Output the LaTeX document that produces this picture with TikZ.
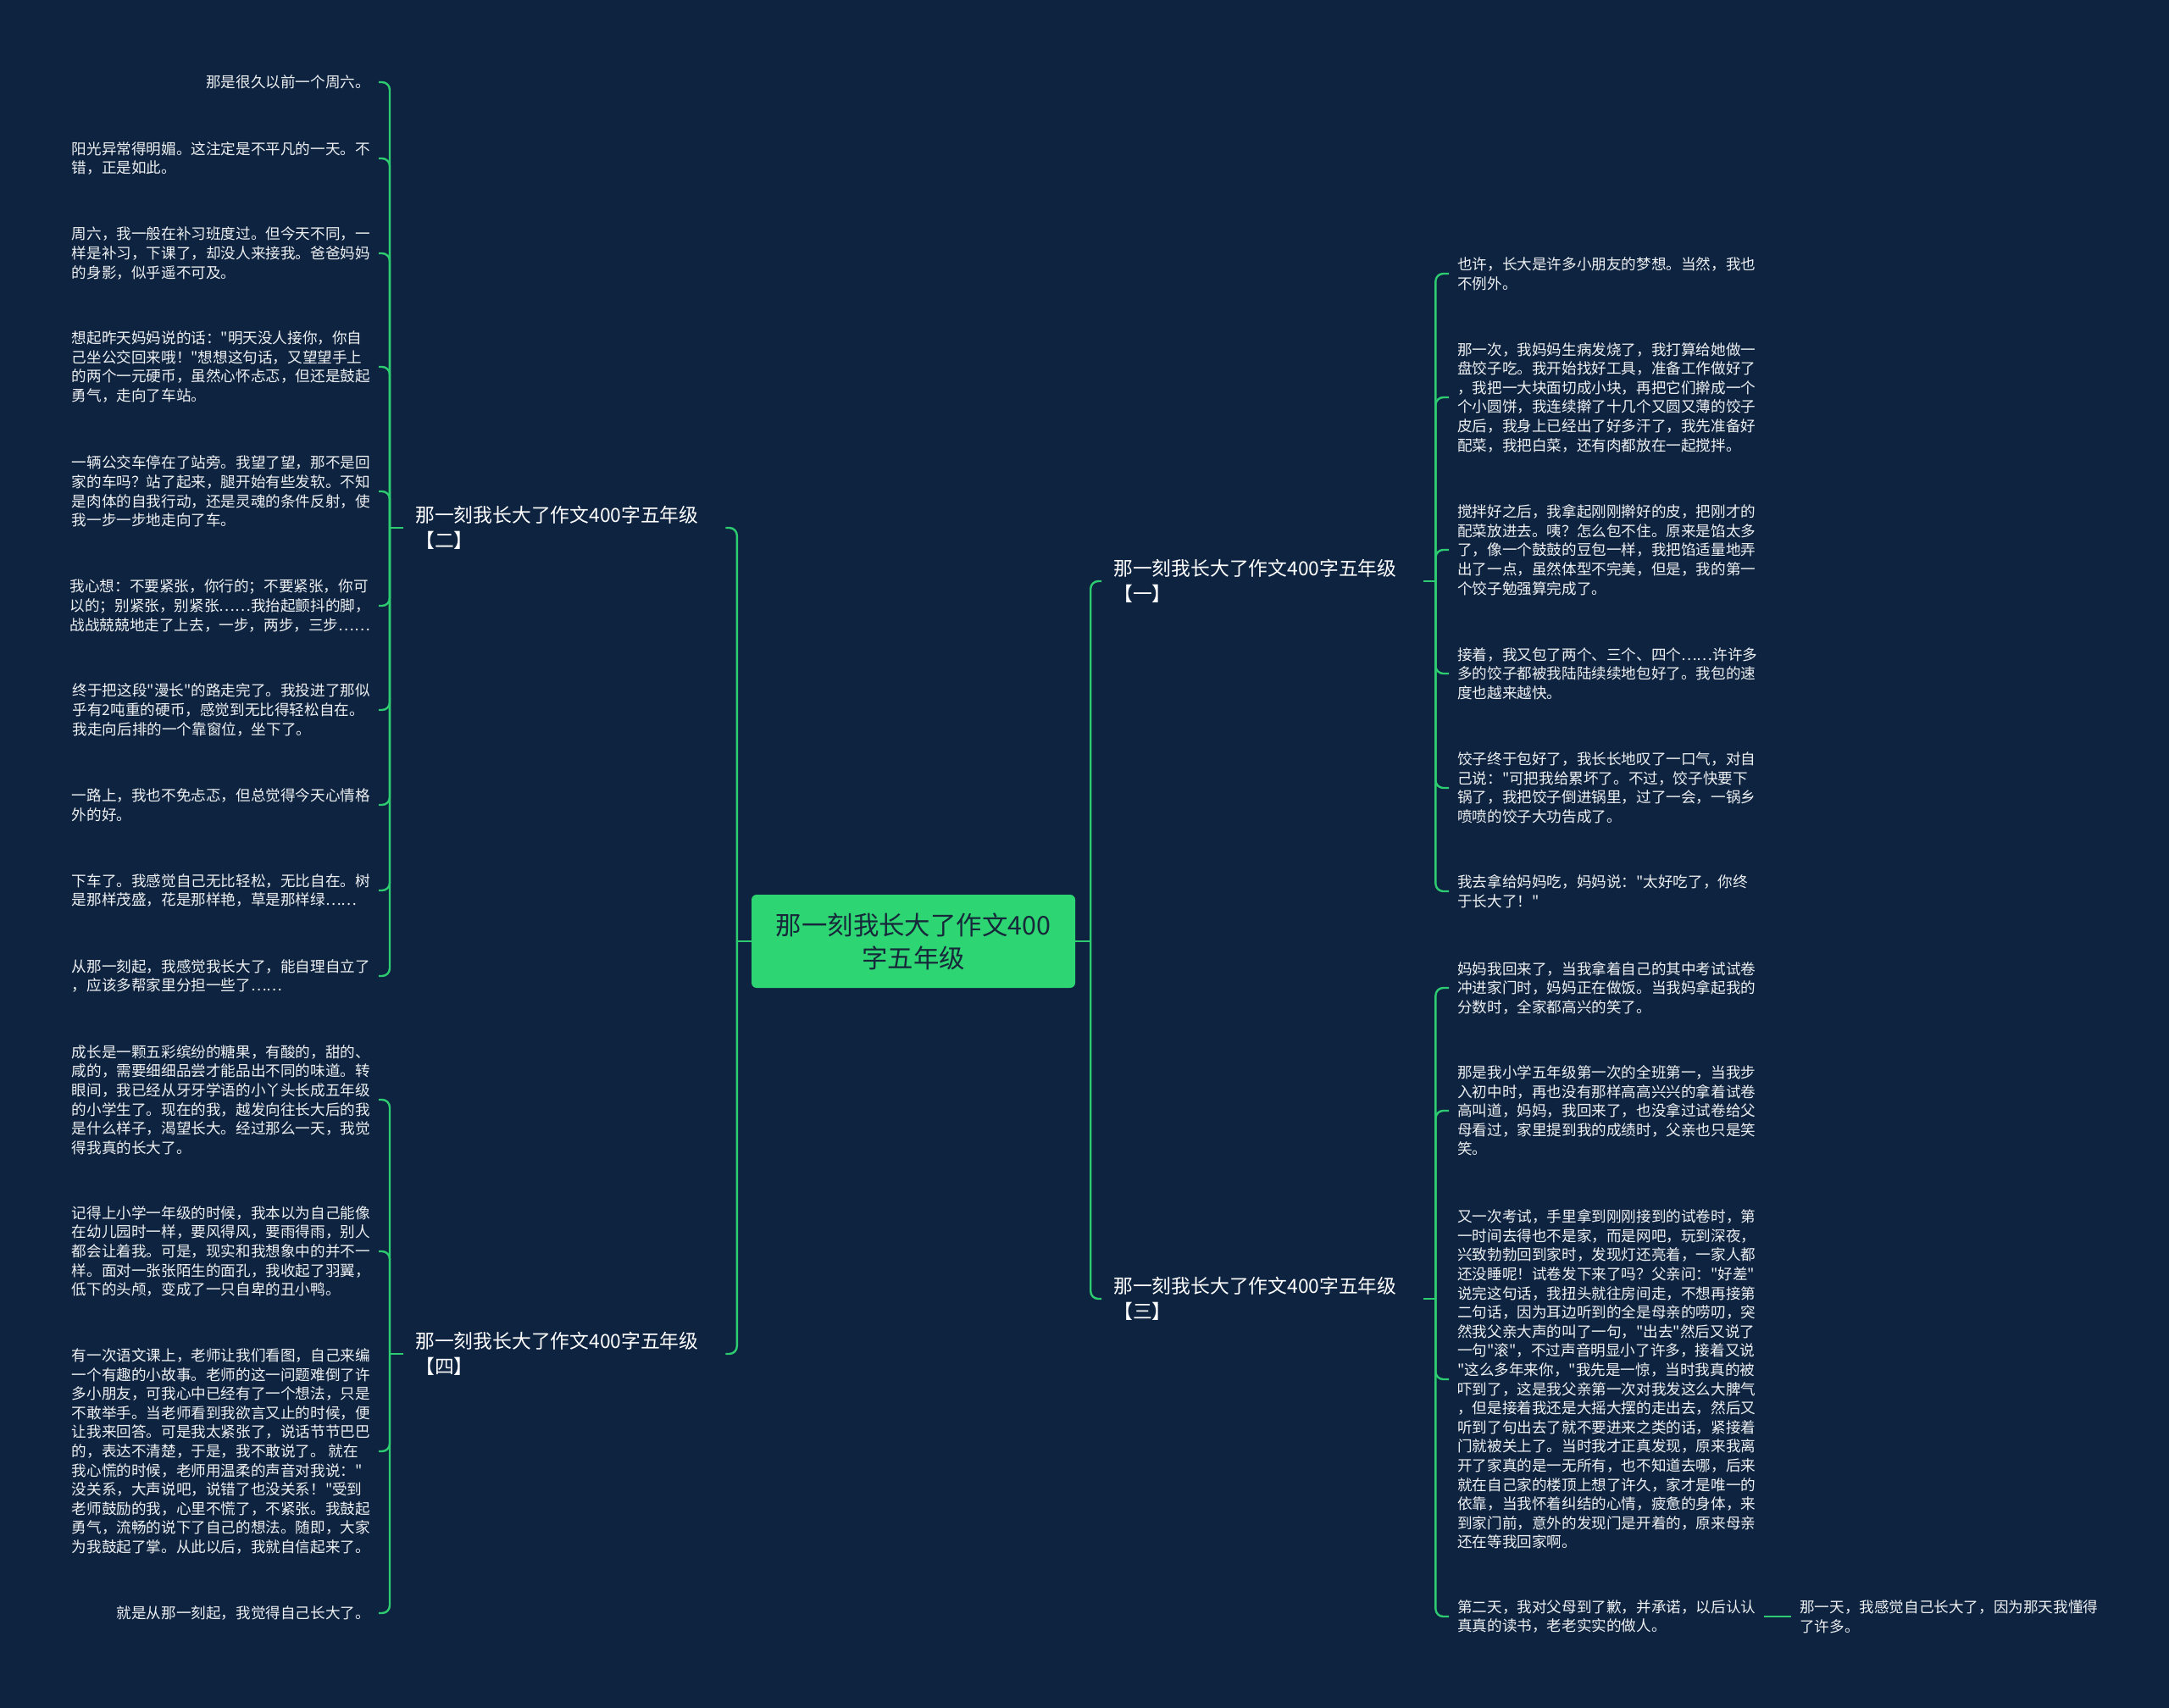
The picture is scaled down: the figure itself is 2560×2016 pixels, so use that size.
\documentclass[tikz,border=0pt]{standalone}
\usepackage{fontspec}
\newfontfamily\cjk{Noto Sans CJK SC}
\definecolor{bg}{RGB}{13,35,64}
\definecolor{ln}{RGB}{46,204,113}
\definecolor{ctr}{RGB}{46,213,115}
\definecolor{ctrtext}{RGB}{22,40,58}
\definecolor{lt}{RGB}{238,240,242}
\tikzset{
  leaf/.style={font=\cjk\fontsize{17.6}{22.6}\selectfont, text=lt, align=left, inner xsep=10pt, inner ysep=4pt},
  leafL/.style={leaf, anchor=east},
  leafR/.style={leaf, anchor=west},
  branch/.style={font=\cjk\fontsize{22.8}{30}\selectfont, text=white, align=left, text width=352pt, inner xsep=14pt, inner ysep=4pt, anchor=west},
  root/.style={fill=ctr, rounded corners=6pt, minimum width=382pt, minimum height=110pt, font=\cjk\fontsize{30.4}{39}\selectfont, text=ctrtext, align=center},
  conn/.style={draw=ln, line width=2.4pt, rounded corners=9pt},
}
\begin{document}
\begin{tikzpicture}[x=1pt,y=-1pt]
\fill[bg] (0,0) rectangle (2560,2016);
\useasboundingbox (0,0) rectangle (2560,2016);

% root
\node[root] (c) at (1078,1111) {那一刻我长大了作文400\\字五年级};

% branches
\node[branch] (b2) at (476,623) {那一刻我长大了作文400字五年级\\【二】};
\node[branch] (b4) at (476,1598) {那一刻我长大了作文400字五年级\\【四】};
\node[branch] (b1) at (1300,686) {那一刻我长大了作文400字五年级\\【一】};
\node[branch] (b3) at (1300,1533) {那一刻我长大了作文400字五年级\\【三】};

% left leaves of branch 2
\node[leafL] (L1) at (447,97) {那是很久以前一个周六。};
\node[leafL] (L2) at (447,187) {阳光异常得明媚。这注定是不平凡的一天。不\\错，正是如此。};
\node[leafL] (L3) at (447,299) {周六，我一般在补习班度过。但今天不同，一\\样是补习，下课了，却没人来接我。爸爸妈妈\\的身影，似乎遥不可及。};
\node[leafL] (L4) at (447,433) {想起昨天妈妈说的话："明天没人接你，你自\\己坐公交回来哦！"想想这句话，又望望手上\\的两个一元硬币，虽然心怀忐忑，但还是鼓起\\勇气，走向了车站。};
\node[leafL] (L5) at (447,580) {一辆公交车停在了站旁。我望了望，那不是回\\家的车吗？站了起来，腿开始有些发软。不知\\是肉体的自我行动，还是灵魂的条件反射，使\\我一步一步地走向了车。};
\node[leafL] (L6) at (447,715) {我心想：不要紧张，你行的；不要紧张，你可\\以的；别紧张，别紧张……我抬起颤抖的脚，\\战战兢兢地走了上去，一步，两步，三步……};
\node[leafL] (L7) at (447,838) {终于把这段"漫长"的路走完了。我投进了那似\\乎有2吨重的硬币，感觉到无比得轻松自在。\\我走向后排的一个靠窗位，坐下了。};
\node[leafL] (L8) at (447,950) {一路上，我也不免忐忑，但总觉得今天心情格\\外的好。};
\node[leafL] (L9) at (447,1051) {下车了。我感觉自己无比轻松，无比自在。树\\是那样茂盛，花是那样艳，草是那样绿……};
\node[leafL] (L10) at (447,1152) {从那一刻起，我感觉我长大了，能自理自立了\\，应该多帮家里分担一些了……};

% left leaves of branch 4
\node[leafL] (L11) at (447,1298) {成长是一颗五彩缤纷的糖果，有酸的，甜的、\\咸的，需要细细品尝才能品出不同的味道。转\\眼间，我已经从牙牙学语的小丫头长成五年级\\的小学生了。现在的我，越发向往长大后的我\\是什么样子，渴望长大。经过那么一天，我觉\\得我真的长大了。};
\node[leafL] (L12) at (447,1477) {记得上小学一年级的时候，我本以为自己能像\\在幼儿园时一样，要风得风，要雨得雨，别人\\都会让着我。可是，现实和我想象中的并不一\\样。面对一张张陌生的面孔，我收起了羽翼，\\低下的头颅，变成了一只自卑的丑小鸭。};
\node[leafL] (L13) at (447,1713) {有一次语文课上，老师让我们看图，自己来编\\一个有趣的小故事。老师的这一问题难倒了许\\多小朋友，可我心中已经有了一个想法，只是\\不敢举手。当老师看到我欲言又止的时候，便\\让我来回答。可是我太紧张了，说话节节巴巴\\的，表达不清楚，于是，我不敢说了。 就在\\我心慌的时候，老师用温柔的声音对我说："\\没关系，大声说吧，说错了也没关系！"受到\\老师鼓励的我，心里不慌了，不紧张。我鼓起\\勇气，流畅的说下了自己的想法。随即，大家\\为我鼓起了掌。从此以后，我就自信起来了。};
\node[leafL] (L14) at (447,1904) {就是从那一刻起，我觉得自己长大了。};

% right leaves of branch 1
\node[leafR] (R1) at (1710,323) {也许，长大是许多小朋友的梦想。当然，我也\\不例外。};
\node[leafR] (R2) at (1710,469) {那一次，我妈妈生病发烧了，我打算给她做一\\盘饺子吃。我开始找好工具，准备工作做好了\\，我把一大块面切成小块，再把它们擀成一个\\个小圆饼，我连续擀了十几个又圆又薄的饺子\\皮后，我身上已经出了好多汗了，我先准备好\\配菜，我把白菜，还有肉都放在一起搅拌。};
\node[leafR] (R3) at (1710,649) {搅拌好之后，我拿起刚刚擀好的皮，把刚才的\\配菜放进去。咦？怎么包不住。原来是馅太多\\了，像一个鼓鼓的豆包一样，我把馅适量地弄\\出了一点，虽然体型不完美，但是，我的第一\\个饺子勉强算完成了。};
\node[leafR] (R4) at (1710,795) {接着，我又包了两个、三个、四个……许许多\\多的饺子都被我陆陆续续地包好了。我包的速\\度也越来越快。};
\node[leafR] (R5) at (1710,930) {饺子终于包好了，我长长地叹了一口气，对自\\己说："可把我给累坏了。不过，饺子快要下\\锅了，我把饺子倒进锅里，过了一会，一锅乡\\喷喷的饺子大功告成了。};
\node[leafR] (R6) at (1710,1052) {我去拿给妈妈吃，妈妈说："太好吃了，你终\\于长大了！"};

% right leaves of branch 3
\node[leafR] (R7) at (1710,1166) {妈妈我回来了，当我拿着自己的其中考试试卷\\冲进家门时，妈妈正在做饭。当我妈拿起我的\\分数时，全家都高兴的笑了。};
\node[leafR] (R8) at (1710,1311) {那是我小学五年级第一次的全班第一，当我步\\入初中时，再也没有那样高高兴兴的拿着试卷\\高叫道，妈妈，我回来了，也没拿过试卷给父\\母看过，家里提到我的成绩时，父亲也只是笑\\笑。};
\node[leafR] (R9) at (1710,1628) {又一次考试，手里拿到刚刚接到的试卷时，第\\一时间去得也不是家，而是网吧，玩到深夜，\\兴致勃勃回到家时，发现灯还亮着，一家人都\\还没睡呢！试卷发下来了吗？父亲问："好差"\\说完这句话，我扭头就往房间走，不想再接第\\二句话，因为耳边听到的全是母亲的唠叨，突\\然我父亲大声的叫了一句，"出去"然后又说了\\一句"滚"，不过声音明显小了许多，接着又说\\"这么多年来你，"我先是一惊，当时我真的被\\吓到了，这是我父亲第一次对我发这么大脾气\\，但是接着我还是大摇大摆的走出去，然后又\\听到了句出去了就不要进来之类的话，紧接着\\门就被关上了。当时我才正真发现，原来我离\\开了家真的是一无所有，也不知道去哪，后来\\就在自己家的楼顶上想了许久，家才是唯一的\\依靠，当我怀着纠结的心情，疲惫的身体，来\\到家门前，意外的发现门是开着的，原来母亲\\还在等我回家啊。};
\node[leafR] (R10) at (1710,1908) {第二天，我对父母到了歉，并承诺，以后认认\\真真的读书，老老实实的做人。};
\node[leafR] (R11) at (2114,1908) {那一天，我感觉自己长大了，因为那天我懂得\\了许多。};

% junction coordinates
\path (c.west) ++(-17,0) coordinate (jL);
\path (c.east) ++(18,0) coordinate (jR);
\path (b2.west) ++(-16,0) coordinate (t2);
\path (b4.west) ++(-16,0) coordinate (t4);
\path (b1.east) ++(14,0) coordinate (t1);
\path (b3.east) ++(14,0) coordinate (t3);

% root connectors
\draw[conn] (c.west) -- (jL);
\draw[conn] (c.east) -- (jR);
\draw[conn] (jL) |- (b2.east);
\draw[conn] (jL) |- (b4.east);
\draw[conn] (jR) |- (b1.west);
\draw[conn] (jR) |- (b3.west);

% branch 2
\draw[conn] (b2.west) -- (t2);
\foreach \n in {L1,L2,L3,L4,L5,L6,L7,L8,L9,L10} \draw[conn] (t2) |- (\n.east);
% branch 4
\draw[conn] (b4.west) -- (t4);
\foreach \n in {L11,L12,L13,L14} \draw[conn] (t4) |- (\n.east);
% branch 1
\draw[conn] (b1.east) -- (t1);
\foreach \n in {R1,R2,R3,R4,R5,R6} \draw[conn] (t1) |- (\n.west);
% branch 3
\draw[conn] (b3.east) -- (t3);
\foreach \n in {R7,R8,R9,R10} \draw[conn] (t3) |- (\n.west);
\draw[conn] (R10.east) -- (R11.west);
\end{tikzpicture}
\end{document}
